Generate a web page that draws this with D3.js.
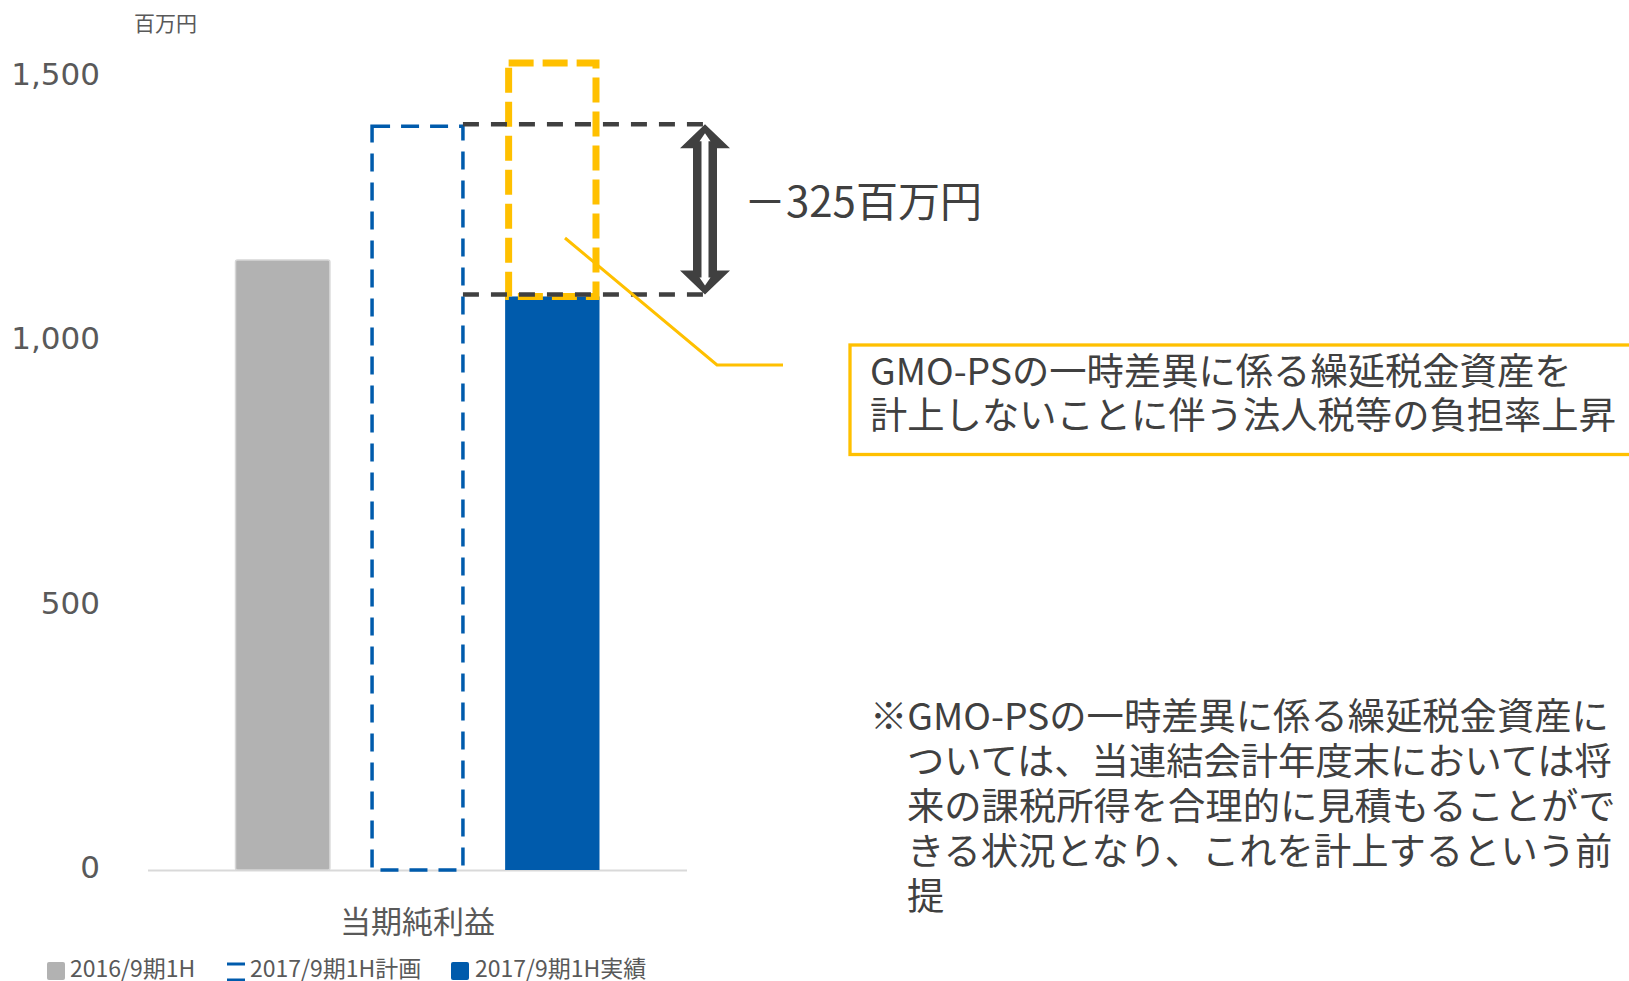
<!DOCTYPE html>
<html><head><meta charset="utf-8">
<script src="https://cdn.jsdelivr.net/npm/d3@7"></script>
<style>html,body{margin:0;padding:0;background:#fff;overflow:hidden}</style>
</head><body><svg id="c" width="1629" height="981"></svg>
<script>
// ---- data ----
const categories = ["当期純利益"];
const seriesNames = ["2016/9期1H", "2017/9期1H計画", "2017/9期1H実績"];
const values = [1147, 1400, 1078];
const yTicks = [0, 500, 1000, 1500];
const unitLabel = "百万円";
const diffLabel = "－325百万円";
const highlightTop = 1520; // upper bound of the yellow dashed highlight box
const calloutLines = ["GMO-PSの一時差異に係る繰延税金資産を", "計上しないことに伴う法人税等の負担率上昇"];
const noteLines = ["※GMO-PSの一時差異に係る繰延税金資産に", "ついては、当連結会計年度末においては将", "来の課税所得を合理的に見積もることがで", "きる状況となり、これを計上するという前", "提"];

// ---- styles ----
const CJK = "'Noto Sans CJK JP','Noto Sans',sans-serif";
const GRAY_TXT = "#595959", DARK = "#404040", BLUE = "#005BAC", GRAYBAR = "#B2B2B2", YEL = "#FFC000";

const svg = d3.select("#c");
const y = d3.scaleLinear().domain([0, 1500]).range([866, 73.5]);
const base = y(0) + 4; // drawn floor line (Excel draws the category axis slightly below the zero label)
const x0 = d3.scaleBand().domain(categories).range([148, 687]).paddingInner(0).paddingOuter(0.2404);
const x1 = d3.scaleBand().domain(seriesNames).range([0, x0.bandwidth()]).paddingInner(0.3).paddingOuter(0);
const bx = s => x0(categories[0]) + x1(s);
const bw = x1.bandwidth();

// baseline
svg.append("line").attr("x1", 148).attr("x2", 687).attr("y1", base + 0.5).attr("y2", base + 0.5)
  .attr("stroke", "#D9D9D9").attr("stroke-width", 2);

// y axis
const yAxis = svg.append("g").attr("transform", "translate(100,0)")
  .call(d3.axisLeft(y).tickValues(yTicks).tickFormat(d3.format(",")).tickSize(0).tickPadding(0));
yAxis.select(".domain").remove();
yAxis.selectAll("text").attr("font-family", "'DejaVu Sans',sans-serif").attr("font-size", 31)
  .attr("fill", GRAY_TXT).attr("dy", "0.36em");

// unit label
svg.append("text").attr("x", 134).attr("y", 31).text(unitLabel)
  .attr("font-family", CJK).attr("font-size", 21).attr("fill", GRAY_TXT);

// x axis (category)
const xAxis = svg.append("g").attr("transform", `translate(0,${base})`)
  .call(d3.axisBottom(x0).tickSize(0));
xAxis.select(".domain").remove();
xAxis.selectAll("text").attr("y", 63).attr("dy", 0).attr("font-family", CJK)
  .attr("font-size", 31).attr("fill", GRAY_TXT);

// bars
const data = seriesNames.map((s, i) => ({ s, v: values[i], i }));
// gray (previous year)
svg.append("rect").datum(data[0])
  .attr("x", d => bx(d.s)).attr("width", bw)
  .attr("y", d => y(d.v)).attr("height", d => base - y(d.v))
  .attr("fill", GRAYBAR).attr("stroke", "#D6D6D6").attr("stroke-width", 1.5).attr("rx", 2);
// plan (dashed outline)
const sw = 3.5;
svg.append("rect").datum(data[1])
  .attr("x", d => bx(d.s) + sw / 2).attr("width", bw - sw)
  .attr("y", d => y(d.v)).attr("height", d => base - y(d.v))
  .attr("fill", "none").attr("stroke", BLUE).attr("stroke-width", sw).attr("stroke-dasharray", "18,11");
// actual
svg.append("rect").datum(data[2])
  .attr("x", d => bx(d.s)).attr("width", bw)
  .attr("y", d => y(d.v)).attr("height", d => base - y(d.v))
  .attr("fill", BLUE);

// yellow dashed highlight box
const ysw = 7;
svg.append("rect")
  .attr("x", bx(seriesNames[2]) + ysw / 2).attr("width", bw - ysw)
  .attr("y", y(highlightTop)).attr("height", y(values[2]) - y(highlightTop))
  .attr("fill", "none").attr("stroke", YEL).attr("stroke-width", ysw).attr("stroke-dasharray", "25,9");

// dark dashed reference lines
const lx1 = bx(seriesNames[1]) + bw - sw / 2, lx2 = 709;
[values[1], values[2]].forEach(v => {
  svg.append("line").attr("x1", lx1).attr("x2", lx2).attr("y1", y(v) - 2).attr("y2", y(v) - 2)
    .attr("stroke", DARK).attr("stroke-width", 4.5).attr("stroke-dasharray", "16,12");
});

// double arrow
const ax = 705, at = y(values[1]) - 2, ab = y(values[2]) - 2;
const hh = 24, hw = 25, sh = 12;
const outer = [[ax, at], [ax + hw, at + hh], [ax + sh, at + hh], [ax + sh, ab - hh], [ax + hw, ab - hh], [ax, ab],
  [ax - hw, ab - hh], [ax - sh, ab - hh], [ax - sh, at + hh], [ax - hw, at + hh]];
svg.append("polygon").attr("points", outer.map(p => p.join(",")).join(" ")).attr("fill", DARK);
const it = at + 9, ib = ab - 9, ihh = 8, ihw = 5.5, ish = 3.5;
const inner = [[ax, it], [ax + ihw, it + ihh], [ax + ish, it + ihh], [ax + ish, ib - ihh], [ax + ihw, ib - ihh], [ax, ib],
  [ax - ihw, ib - ihh], [ax - ish, ib - ihh], [ax - ish, it + ihh], [ax - ihw, it + ihh]];
svg.append("polygon").attr("points", inner.map(p => p.join(",")).join(" ")).attr("fill", "#fff");

// difference label
svg.append("text").attr("x", 744).attr("y", 217).text(diffLabel)
  .attr("font-family", CJK).attr("font-size", 42).attr("fill", DARK);

// leader line
svg.append("polyline").attr("points", "565,238 717,365 783,365")
  .attr("fill", "none").attr("stroke", YEL).attr("stroke-width", 3);

// callout box
svg.append("rect").attr("x", 850).attr("y", 345).attr("width", 820).attr("height", 109.5)
  .attr("fill", "#fff").attr("stroke", YEL).attr("stroke-width", 3.3);
svg.append("g").selectAll("text").data(calloutLines).join("text")
  .attr("x", 870).attr("y", (d, i) => 385 + i * 43.5).text(d => d)
  .attr("font-family", CJK).attr("font-size", 37.3).attr("fill", DARK);

// note
svg.append("g").selectAll("text").data(noteLines).join("text")
  .attr("x", (d, i) => i === 0 ? 870 : 907).attr("y", (d, i) => 730 + i * 44.9).text(d => d)
  .attr("font-family", CJK).attr("font-size", 37.3).attr("fill", DARK);

// legend
const legX = [47, 227, 451], legTX = [70, 250, 475];
const lg = svg.append("g");
seriesNames.forEach((s, i) => {
  if (i === 1) {
    lg.append("line").attr("x1", legX[i]).attr("x2", legX[i] + 18).attr("y1", 964).attr("y2", 964)
      .attr("stroke", BLUE).attr("stroke-width", 3);
    lg.append("line").attr("x1", legX[i]).attr("x2", legX[i] + 18).attr("y1", 980).attr("y2", 980)
      .attr("stroke", BLUE).attr("stroke-width", 3);
  } else {
    lg.append("rect").attr("x", legX[i]).attr("y", 962).attr("width", 18).attr("height", 18).attr("rx", 2)
      .attr("fill", i === 0 ? GRAYBAR : BLUE);
  }
  lg.append("text").attr("x", legTX[i]).attr("y", 977).text(s)
    .attr("font-family", CJK).attr("font-size", 23).attr("fill", GRAY_TXT);
});
</script></body></html>
